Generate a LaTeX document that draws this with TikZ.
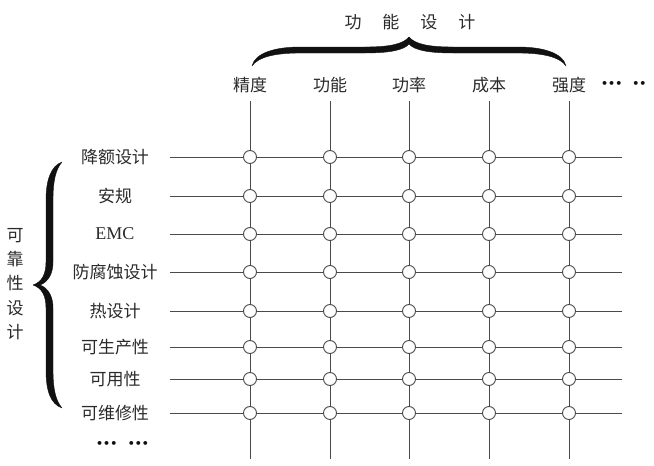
\documentclass[tikz,border=0pt]{standalone}
\usepackage{fontspec}
\setmainfont{Liberation Serif}
\newfontfamily\cjk{Noto Sans CJK SC}
\newfontfamily\dotfont{DejaVu Sans Bold}
\definecolor{lineclr}{HTML}{4A4A4A}
\definecolor{txtclr}{HTML}{2A2A2A}
\definecolor{braceclr}{HTML}{111111}
\begin{document}
\begin{tikzpicture}[x=1pt,y=-1pt,
  gridline/.style={draw=lineclr, line width=0.9pt},
  cross/.style={circle, draw=lineclr, fill=white, minimum size=13pt, inner sep=0pt, line width=0.9pt},
  lbl/.style={font=\cjk\fontsize{17}{17}\selectfont, text=txtclr, inner sep=0pt},
  dotlbl/.style={font=\dotfont\fontsize{11}{11}\selectfont, text=braceclr, inner sep=0pt, anchor=west},
  bracefill/.style={fill=braceclr, draw=braceclr, line width=0.4pt, line join=round}]
\useasboundingbox (0,0) rectangle (654,466);

% column labels and vertical lines
\foreach \x/\t [count=\i] in {250/精度,330/功能,409/功率,489/成本,569/强度}{
  \node[lbl] (c\i) at (\x,85) {\t};
  \coordinate (vt\i) at (\x,101);
  \coordinate (vb\i) at (\x,459);
  \draw[gridline] (vt\i) -- (vb\i);
}
\node[dotlbl] (cdots) at (601,84) {•••\hspace{10pt}••};

% row labels and horizontal lines
\foreach \y/\t [count=\j] in {157/降额设计,196/安规,234/{\rmfamily\fontsize{18}{18}\selectfont EMC},272/防腐蚀设计,311/热设计,347/可生产性,379/可用性,413/可维修性}{
  \node[lbl] (r\j) at (115,\y) {\t};
  \coordinate (hl\j) at (170,\y);
  \coordinate (hr\j) at (622,\y);
  \draw[gridline] (hl\j) -- (hr\j);
}
\node[dotlbl] (rdots) at (96,444) {•••\hspace{10.5pt}•••};

% intersection circles
\foreach \i in {1,...,5}{
  \foreach \j in {1,...,8}{
    \node[cross] (n\i-\j) at (vt\i |- hl\j) {};
  }
}

% title and top brace
\node[lbl] (title) at (410,22) {功\hspace{21pt}能\hspace{21pt}设\hspace{21pt}计};
\fill[bracefill]
  (252,66) .. controls (255,53) and (275,47) .. (300,47) -- (365,47)
  .. controls (390,47) and (403,44) .. (409,37)
  .. controls (415,44) and (428,47) .. (453,47) -- (518,47)
  .. controls (543,47) and (563,53) .. (566,66)
  .. controls (560,57) and (543,53) .. (518,53) -- (453,53)
  .. controls (428,53) and (414,50) .. (409,44)
  .. controls (404,50) and (390,53) .. (365,53) -- (300,53)
  .. controls (275,53) and (258,57) .. (252,66) -- cycle;

% left title and brace
\node[lbl, align=center, font=\cjk\fontsize{17}{24.2}\selectfont] (ltitle) at (15,284) {可\\靠\\性\\设\\计};
\fill[bracefill]
  (62,162) .. controls (51,166) and (46,180) .. (46,200) -- (46,262)
  .. controls (46,274) and (42,282) .. (33,285)
  .. controls (42,288) and (46,296) .. (46,308) -- (46,370)
  .. controls (46,392) and (51,404) .. (62,408)
  .. controls (56,401) and (53,390) .. (53,370) -- (53,308)
  .. controls (53,296) and (48,288) .. (40,285)
  .. controls (48,282) and (53,274) .. (53,262) -- (53,200)
  .. controls (53,180) and (56,169) .. (62,162) -- cycle;
\end{tikzpicture}
\end{document}
